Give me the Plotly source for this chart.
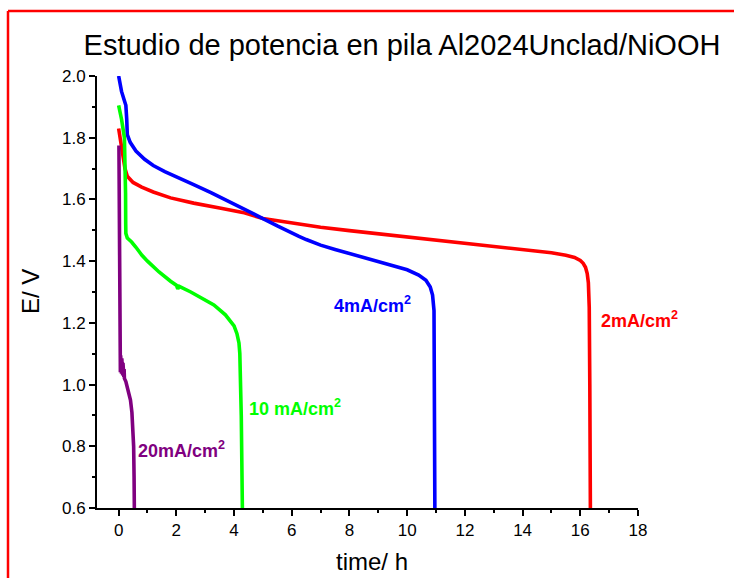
import plotly.graph_objects as go

# ---- data ----
t_2mA = [0.0, 0.05, 0.15, 0.22, 0.3, 0.5, 0.8, 1.2, 1.8, 2.6, 3.5, 4.3, 5.0, 6.0, 7.0, 8.0,
         9.0, 10.0, 11.0, 12.0, 13.0, 14.0, 15.0, 15.5, 15.8, 16.0, 16.1, 16.18, 16.24, 16.28,
         16.31, 16.33, 16.35]
E_2mA = [1.83, 1.80, 1.75, 1.70, 1.675, 1.655, 1.64, 1.624, 1.605, 1.588, 1.572, 1.558, 1.538, 1.523,
         1.510, 1.499, 1.489, 1.479, 1.469, 1.459, 1.449, 1.438, 1.427, 1.419, 1.412, 1.402, 1.393,
         1.38, 1.36, 1.33, 1.25, 1.0, 0.59]

t_4mA = [0.0, 0.1, 0.2, 0.25, 0.28, 0.3, 0.4, 0.6, 0.9, 1.2, 1.6, 2.0, 2.6, 3.2, 3.8, 4.5, 5.0,
         5.5, 5.75, 6.0, 6.25, 6.5, 6.75, 7.0, 7.5, 8.0, 8.5, 9.0, 9.5, 10.0, 10.4, 10.65, 10.8,
         10.88, 10.93, 10.95, 10.96]
E_4mA = [2.0, 1.95, 1.92, 1.905, 1.86, 1.81, 1.785, 1.757, 1.73, 1.71, 1.69, 1.672, 1.648, 1.622,
         1.595, 1.562, 1.538, 1.514, 1.502, 1.491, 1.480, 1.470, 1.461, 1.452, 1.438, 1.425, 1.412,
         1.400, 1.387, 1.372, 1.355, 1.338, 1.316, 1.29, 1.24, 1.0, 0.59]

t_10mA = [0.0, 0.1, 0.2, 0.23, 0.24, 0.245, 0.25, 0.3, 0.45, 0.6, 0.8, 1.0, 1.4, 1.8, 2.0, 2.05,
          2.1, 2.5, 2.9, 3.3, 3.7, 4.0, 4.1, 4.17, 4.2, 4.25, 4.29]
E_10mA = [1.905, 1.86, 1.80, 1.72, 1.62, 1.52, 1.49, 1.475, 1.462, 1.445, 1.42, 1.40, 1.365, 1.335,
          1.322, 1.31, 1.318, 1.30, 1.28, 1.258, 1.226, 1.19, 1.165, 1.135, 1.10, 0.9, 0.59]

t_20mA = [0.01, 0.02, 0.03, 0.04, 0.05, 0.06, 0.07, 0.08, 0.09, 0.10, 0.11, 0.12, 0.13, 0.14,
          0.15, 0.16, 0.17, 0.18, 0.19, 0.20, 0.25, 0.33, 0.41, 0.46, 0.50, 0.52, 0.535, 0.545]
E_20mA = [1.775, 1.40, 1.10, 1.04, 1.10, 1.04, 1.095, 1.04, 1.09, 1.035, 1.085, 1.035, 1.075, 1.03,
          1.07, 1.03, 1.06, 1.025, 1.05, 1.02, 1.01, 0.98, 0.95, 0.91, 0.86, 0.80, 0.70, 0.59]

series = [
    ("2mA/cm<sup>2</sup>", t_2mA, E_2mA, "#FF0000"),
    ("4mA/cm<sup>2</sup>", t_4mA, E_4mA, "#0000FF"),
    ("10 mA/cm<sup>2</sup>", t_10mA, E_10mA, "#00FF00"),
    ("20mA/cm<sup>2</sup>", t_20mA, E_20mA, "#800080"),
]

# label positions (data coords) for the curve labels
label_x = [16.65, 7.4, 4.46, 0.59]
label_y = [1.21, 1.258, 0.927, 0.788]

x_ticks = [0, 2, 4, 6, 8, 10, 12, 14, 16, 18]
y_ticks = [0.6, 0.8, 1.0, 1.2, 1.4, 1.6, 1.8, 2.0]

FONT = "Liberation Sans, Arial, sans-serif"

fig = go.Figure()
for name, t, e, c in series:
    fig.add_trace(go.Scatter(x=t, y=e, mode="lines", name=name,
                             line=dict(color=c, width=3.6), showlegend=False))

for (name, _, _, c), lx, ly in zip(series, label_x, label_y):
    fig.add_annotation(x=lx, y=ly, xref="x", yref="y", text="<b>" + name + "</b>",
                       showarrow=False, xanchor="left", yanchor="middle",
                       font=dict(family=FONT, size=18, color=c))

# axis titles
fig.add_annotation(x=(372 - 97) / 541, y=(508 - 561) / 432, xref="paper", yref="paper",
                   text="time/ h", showarrow=False, xanchor="center", yanchor="middle",
                   font=dict(family=FONT, size=24, color="black"))
fig.add_annotation(x=(30 - 97) / 541, y=(508 - 292) / 432, xref="paper", yref="paper",
                   text="E/ V", showarrow=False, xanchor="center", yanchor="middle",
                   textangle=-90, font=dict(family=FONT, size=24, color="black"))

# red frame (left and top edges)
fig.add_shape(type="line", xref="paper", yref="paper",
              x0=(8 - 97) / 541, x1=(8 - 97) / 541, y0=(508 - 600) / 432, y1=(508 - 11) / 432,
              line=dict(color="#FF0000", width=2.5))
fig.add_shape(type="line", xref="paper", yref="paper",
              x0=(8 - 97) / 541, x1=(760 - 97) / 541, y0=(508 - 11) / 432, y1=(508 - 11) / 432,
              line=dict(color="#FF0000", width=2.5))

axis_common = dict(showline=True, linecolor="black", linewidth=2, ticks="outside",
                   ticklen=6, tickwidth=2, tickcolor="black", showgrid=False, zeroline=False,
                   mirror=False, tickfont=dict(family=FONT, size=17, color="black"))

fig.update_xaxes(range=[-0.75, 18], tickvals=x_ticks, ticktext=[str(v) for v in x_ticks],
                 minor=dict(ticks="outside", ticklen=3, tickwidth=2, tickcolor="black", dtick=1, tick0=0),
                 **axis_common)
fig.update_yaxes(range=[0.6, 2.0], tickvals=y_ticks, ticktext=["%.1f" % v for v in y_ticks],
                 minor=dict(ticks="outside", ticklen=3, tickwidth=2, tickcolor="black", dtick=0.1, tick0=0.6),
                 **axis_common)

fig.update_layout(
    width=734, height=578,
    margin=dict(l=97, r=96, t=76, b=70, autoexpand=False),
    paper_bgcolor="white", plot_bgcolor="white",
    title=dict(text="Estudio de potencia en pila Al2024Unclad/NiOOH",
               x=(402 - 97) / 541, xref="paper", xanchor="center",
               y=1 - 45 / 578, yref="container", yanchor="middle",
               font=dict(family=FONT, size=29, color="black")),
)

fig.write_html("out.html")
